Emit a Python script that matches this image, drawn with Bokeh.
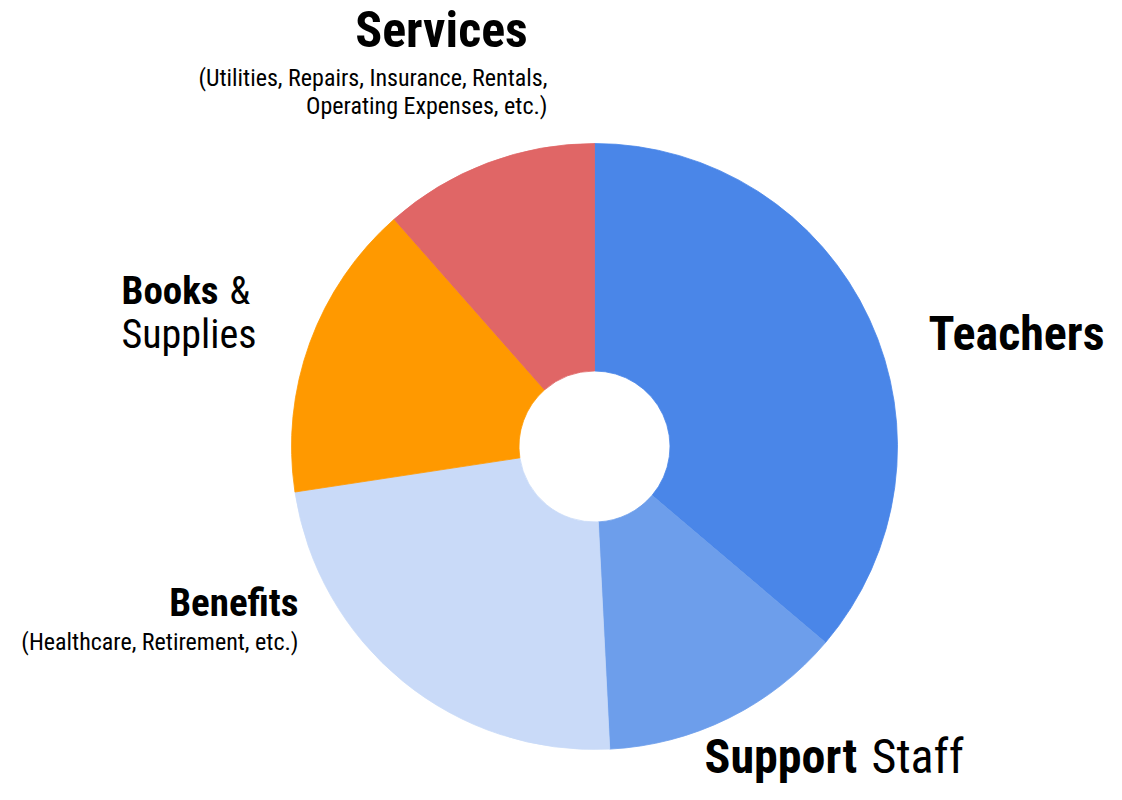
import math
from bokeh.plotting import figure
from bokeh.models import Range1d
from bokeh.core.properties import value
from bokeh.embed import file_html
from bokeh.resources import INLINE

# ---- data ----
categories = ["Teachers", "Support Staff", "Benefits", "Books & Supplies", "Services"]
shares = [36.2, 13.0, 23.4, 15.9, 11.5]
colors = ["#4a86e8", "#6d9eeb", "#c9daf8", "#ff9900", "#e06666"]

W, H = 1106, 784
p = figure(width=W, height=H, output_backend="svg", toolbar_location=None,
           x_range=Range1d(0, W), y_range=Range1d(800 - H, 800),
           min_border=0, x_axis_location=None, y_axis_location=None)
p.grid.visible = False
p.outline_line_color = None
p.background_fill_color = "white"
p.border_fill_color = "white"

def Y(sy):
    return 800 - sy

cx, cy = 594, Y(446)
total = sum(shares)
starts, ends = [], []
cum = 0.0
for s in shares:
    a0 = math.pi / 2 - 2 * math.pi * cum / total
    cum += s
    a1 = math.pi / 2 - 2 * math.pi * cum / total
    starts.append(a0)
    ends.append(a1)

p.annular_wedge(x=[cx] * len(shares), y=[cy] * len(shares), inner_radius=75.5, outer_radius=303,
                start_angle=starts, end_angle=ends, direction="clock",
                fill_color=colors, line_color=colors, line_width=0.8)

FONT = value("Roboto Condensed, DejaVu Sans Condensed, Liberation Sans Narrow, Roboto, sans-serif")

def label(x, sy, txt, size, bold, align="left"):
    # sy is the desired baseline in page pixels; the renderer draws ~0.35em lower
    p.text(x=[x], y=[Y(sy - 0.35 * size)], text=[txt], text_font=FONT,
           text_font_size=f"{size}px", text_font_style="bold" if bold else "normal",
           text_align=align, text_baseline="alphabetic", text_color="#000000")

# Services
label(441, 47, "Services", 50, True, "center")
label(547, 86, "(Utilities, Repairs, Insurance, Rentals,", 24, False, "right")
label(547, 114, "Operating Expenses, etc.)", 24, False, "right")
# Teachers
label(1104, 350, "Teachers", 48, True, "right")
# Books & Supplies
label(121, 304, "Books", 39, True)
label(229, 304, "&", 38, False)
label(121, 348, "Supplies", 40, False)
# Benefits
label(298, 616, "Benefits", 39, True, "right")
label(298, 650, "(Healthcare, Retirement, etc.)", 24, False, "right")
# Support Staff
label(704, 773, "Support", 48, True)
label(871, 773, "Staff", 48, False)

open("out.html", "w").write(file_html(p, INLINE))
